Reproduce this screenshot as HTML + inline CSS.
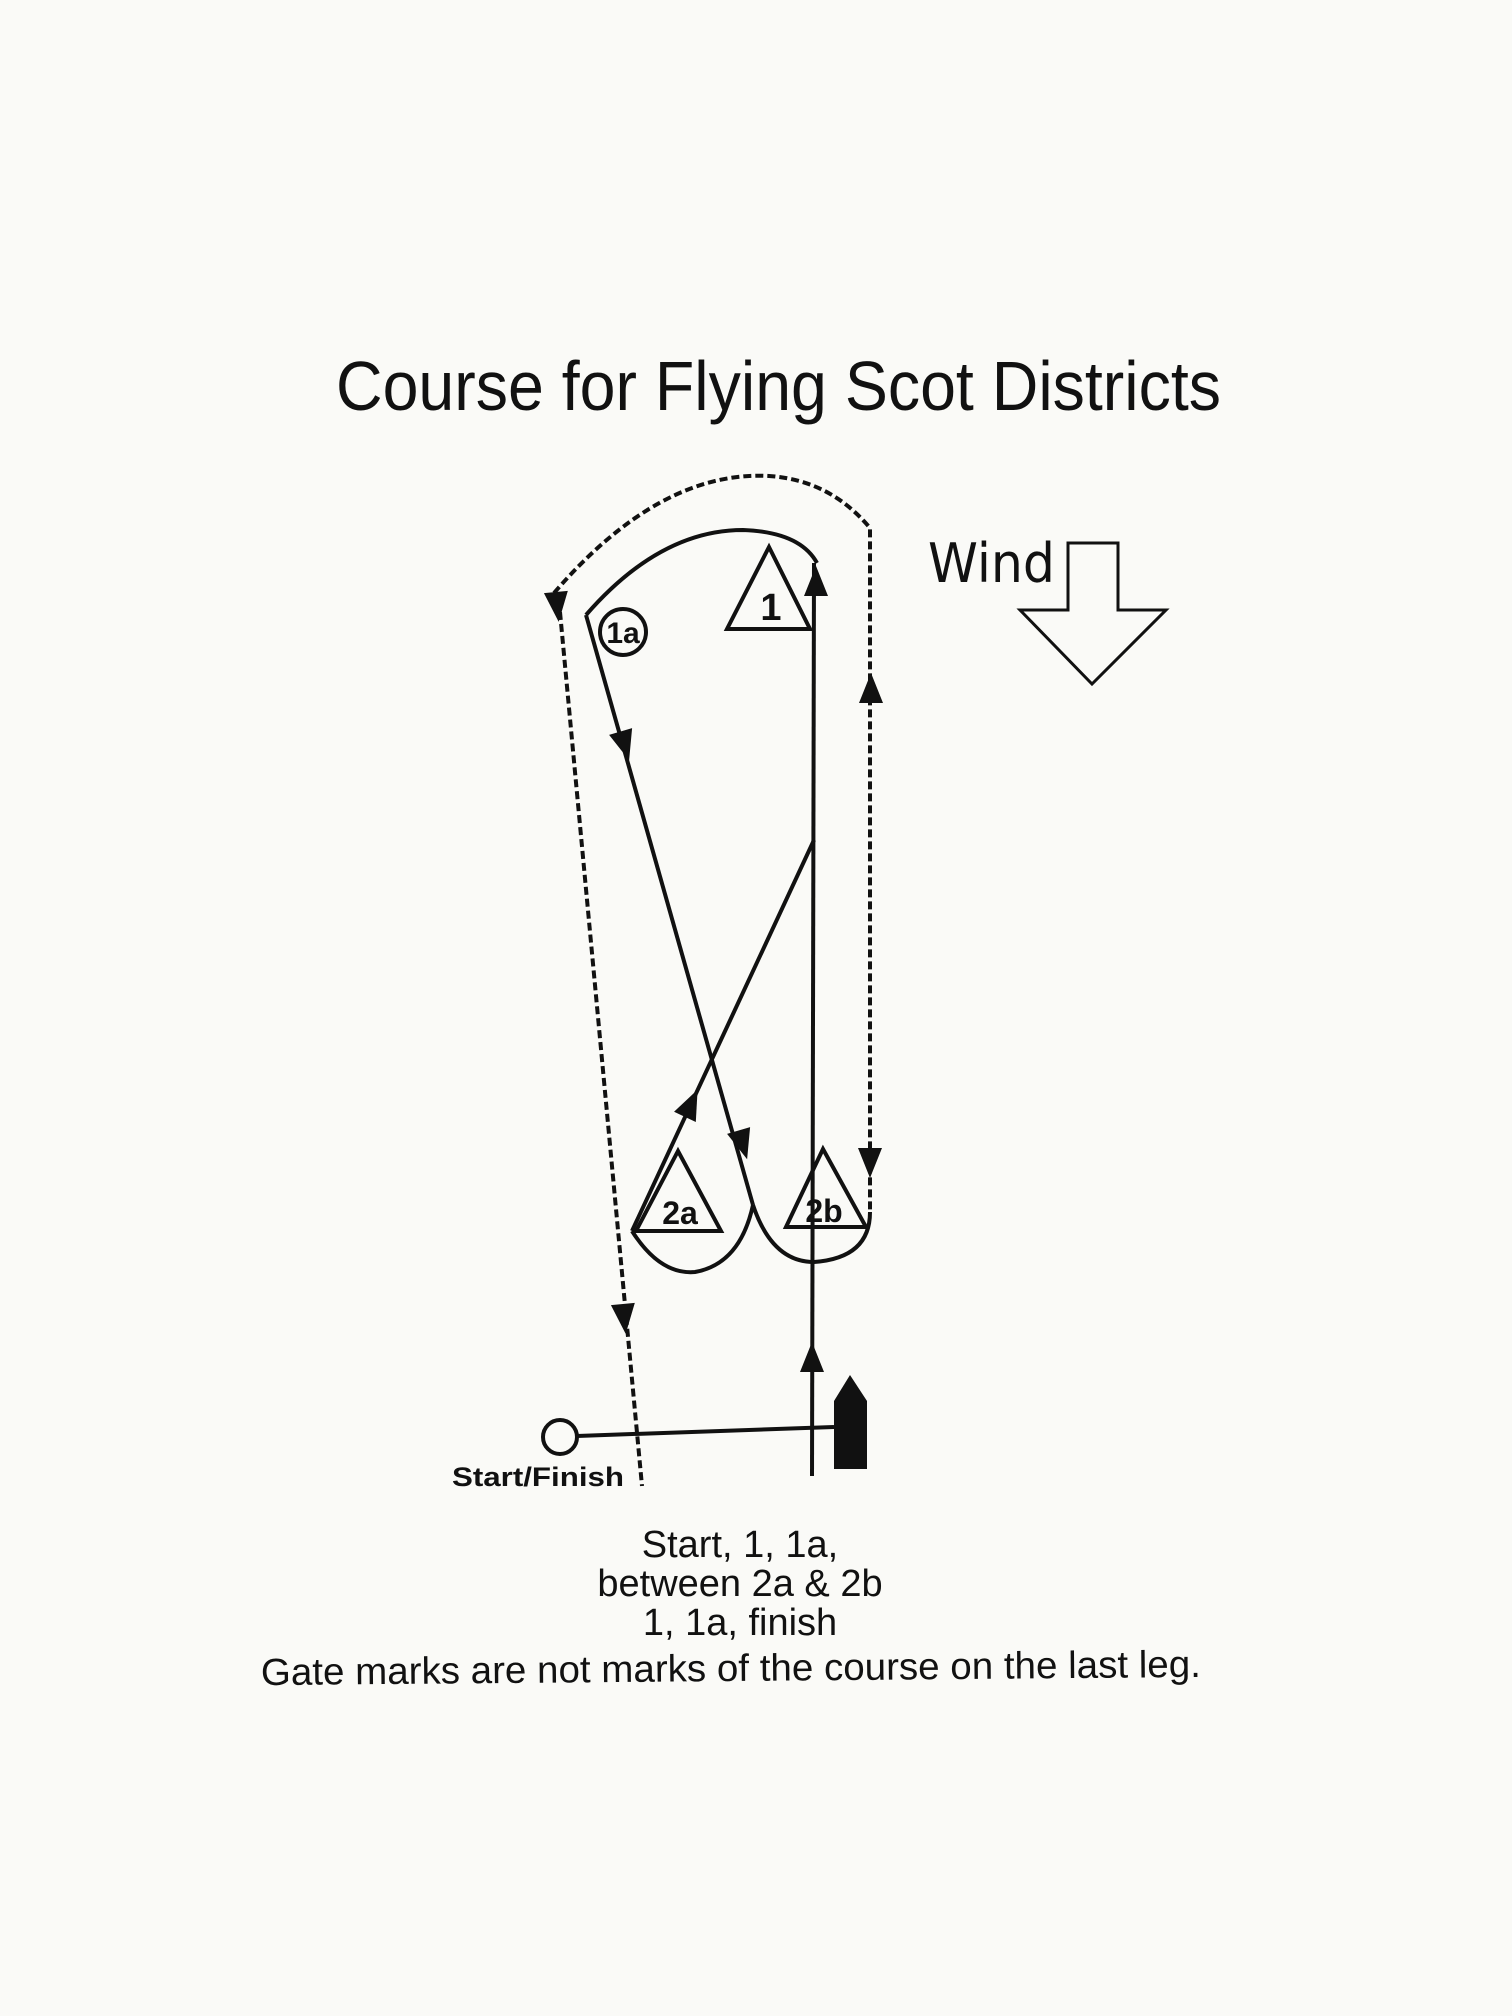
<!DOCTYPE html>
<html><head><meta charset="utf-8"><style>
html,body{margin:0;padding:0;background:#fafaf7;}
svg{display:block}
</style></head><body>
<svg width="1512" height="2016" viewBox="0 0 1512 2016" xmlns="http://www.w3.org/2000/svg">
<rect width="1512" height="2016" fill="#fafaf7"/>
<text x="336" y="410" font-family="Liberation Sans, sans-serif" font-size="70" textLength="885" lengthAdjust="spacingAndGlyphs" fill="#111">Course for Flying Scot Districts</text>

<g fill="none" stroke="#111" stroke-width="4">
  <path d="M554,593 Q660,470 769,476 Q830,480 870,528 L870,1212" stroke-dasharray="8,4"/>
  <path d="M560,612 L642,1486" stroke-dasharray="8,4"/>
  <path d="M586,615 Q660,530 743,530 Q800,532 817,563"/>
  <path d="M586,615 L753,1205"/>
  <path d="M814,563 L812,1476"/>
  <path d="M814,840 L632,1231"/>
  <path d="M632,1231 Q660,1275 695,1272 Q740,1264 753,1205"/>
  <path d="M753,1205 Q772,1262 814,1262 Q870,1258 870,1212"/>
  <polygon points="769,547 727,629 810,629"/>
  <polygon points="678,1151 636,1231 721,1231"/>
  <polygon points="823,1149 786,1227 866,1227"/>
  <circle cx="623" cy="632" r="23"/>
  <polygon points="1068,543 1118,543 1118,610 1166,610 1092,684 1020,610 1068,610" stroke-width="3"/>
  <circle cx="560" cy="1437" r="17"/>
  <line x1="577" y1="1436" x2="834" y2="1427"/>
</g>
<polygon points="834,1401 850,1375 867,1401 867,1469 834,1469" fill="#111"/>

<g fill="#111">
  <polygon points="0,-18 -12,12 12,12" transform="translate(557,604) rotate(174.6)"/>
  <polygon points="0,-18 -12,12 12,12" transform="translate(624,1316) rotate(174.6)"/>
  <polygon points="0,-18 -12,12 12,12" transform="translate(871,691)"/>
  <polygon points="0,-18 -12,12 12,12" transform="translate(870,1160) rotate(180)"/>
  <polygon points="0,-18 -12,12 12,12" transform="translate(624,743) rotate(163.5)"/>
  <polygon points="0,-18 -12,12 12,12" transform="translate(742,1142) rotate(163.5)"/>
  <polygon points="0,-18 -12,12 12,12" transform="translate(816,584)"/>
  <polygon points="0,-18 -12,12 12,12" transform="translate(812,1360)"/>
  <polygon points="0,-18 -12,12 12,12" transform="translate(690,1106) rotate(25)"/>
</g>

<g font-family="Liberation Sans, sans-serif" font-weight="bold" fill="#111" text-anchor="middle">
  <text x="771" y="620" font-size="38">1</text>
  <text x="623" y="643" font-size="30">1a</text>
  <text x="680" y="1224" font-size="32">2a</text>
  <text x="824" y="1222" font-size="32">2b</text>
</g>
<text x="928" y="582" font-family="DejaVu Sans, sans-serif" font-size="54" textLength="127" lengthAdjust="spacingAndGlyphs" fill="#111">Wind</text>
<text x="452" y="1486" font-family="Liberation Sans, sans-serif" font-weight="bold" font-size="27" textLength="172" lengthAdjust="spacingAndGlyphs" fill="#111">Start/Finish</text>

<g font-family="Liberation Sans, sans-serif" font-size="38" fill="#111" text-anchor="middle">
  <text x="740" y="1557">Start, 1, 1a,</text>
  <text x="740" y="1596">between 2a  &amp; 2b</text>
  <text x="740" y="1635">1, 1a, finish</text>
  <text x="731" y="1681" textLength="940" lengthAdjust="spacingAndGlyphs" transform="rotate(-0.5 731 1681)">Gate marks are not marks of the course on the last leg.</text>
</g>
</svg>
</body></html>
